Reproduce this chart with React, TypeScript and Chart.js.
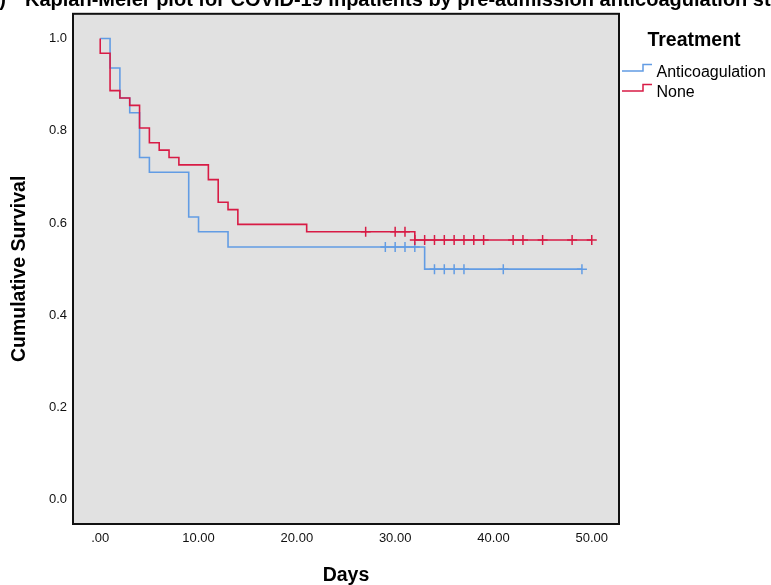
import React, { useEffect, useRef } from 'react';
import { Chart, registerables } from 'chart.js';

Chart.register(...registerables);

const FONT = '"Liberation Sans", Arial, Helvetica, sans-serif';

const TITLE_PREFIX = '(a)';
const TITLE_TEXT = 'Kaplan-Meier plot for COVID-19 inpatients by pre-admission anticoagulation status';
const X_TITLE = 'Days';
const Y_TITLE = 'Cumulative Survival';
const LEGEND_TITLE = 'Treatment';
const SERIES_NAMES = ['Anticoagulation', 'None'];

const X_TICKS = [0, 10, 20, 30, 40, 50];
const Y_TICKS = [0, 0.2, 0.4, 0.6, 0.8, 1.0];

const ANTI_DAYS = [0, 1, 2, 3, 4, 5, 9, 10, 13, 33, 49];
const ANTI_SURV = [1.0, 0.936, 0.871, 0.839, 0.742, 0.71, 0.613, 0.581, 0.548, 0.5, 0.5];
const ANTI_CENSOR_DAYS = [29, 30, 31, 32, 34, 35, 36, 37, 41, 49];
const ANTI_CENSOR_SURV = [0.548, 0.548, 0.548, 0.548, 0.5, 0.5, 0.5, 0.5, 0.5, 0.5];

const NONE_DAYS = [0, 0, 1, 2, 3, 4, 5, 6, 7, 8, 11, 12, 13, 14, 21, 32, 50];
const NONE_SURV = [1.0, 0.968, 0.887, 0.871, 0.855, 0.806, 0.774, 0.758, 0.742, 0.726, 0.694, 0.645, 0.629, 0.597, 0.581, 0.563, 0.563];
const NONE_CENSOR_DAYS = [27, 30, 31, 32, 33, 34, 35, 36, 37, 38, 39, 42, 43, 45, 48, 50];
const NONE_CENSOR_SURV = [0.581, 0.581, 0.581, 0.563, 0.563, 0.563, 0.563, 0.563, 0.563, 0.563, 0.563, 0.563, 0.563, 0.563, 0.563, 0.563];

const BLUE = '#629ce4';
const RED = '#d81b45';
const COLORS = [BLUE, RED];

const pts = (xs: number[], ys: number[]) => xs.map((x, i) => ({ x, y: ys[i] }));

const framePlugin = {
  id: 'frame',
  beforeDatasetsDraw(chart: any) {
    const { ctx, chartArea: a } = chart;
    ctx.save();
    ctx.fillStyle = '#e1e1e1';
    ctx.fillRect(a.left, a.top, a.right - a.left, a.bottom - a.top);
    ctx.restore();
  },
  afterDatasetsDraw(chart: any) {
    const { ctx, chartArea: a } = chart;
    ctx.save();
    ctx.strokeStyle = '#111';
    ctx.lineWidth = 2;
    ctx.strokeRect(a.left, a.top, a.right - a.left, a.bottom - a.top);
    ctx.restore();
  },
  afterDraw(chart: any) {
    const { ctx, chartArea: a } = chart;
    ctx.save();
    // title (clipped at top)
    ctx.fillStyle = '#000';
    ctx.font = `bold 20px ${FONT}`;
    ctx.textBaseline = 'alphabetic';
    ctx.textAlign = 'right';
    ctx.fillText(TITLE_PREFIX, 6, 6);
    ctx.textAlign = 'left';
    ctx.fillText(TITLE_TEXT, 25, 6);

    // legend
    const lx = a.right;
    ctx.font = `bold 19.5px ${FONT}`;
    ctx.textAlign = 'center';
    ctx.fillText(LEGEND_TITLE, 694, 46);
    ctx.font = `16px ${FONT}`;
    ctx.textAlign = 'left';
    const lows = [71, 91];
    const bases = [76.5, 96.5];
    SERIES_NAMES.forEach((name, i) => {
      const y0 = lows[i];
      ctx.strokeStyle = COLORS[i];
      ctx.lineWidth = 1.5;
      ctx.beginPath();
      ctx.moveTo(lx + 3, y0);
      ctx.lineTo(643, y0);
      ctx.lineTo(643, y0 - 6.5);
      ctx.lineTo(652, y0 - 6.5);
      ctx.stroke();
      ctx.fillStyle = '#000';
      ctx.fillText(name, 656.5, bases[i]);
    });
    ctx.restore();
  },
};

export default function App() {
  const ref = useRef<HTMLCanvasElement | null>(null);

  useEffect(() => {
    if (!ref.current) return;
    const chart = new Chart(ref.current, {
      type: 'line',
      data: {
        datasets: [
          {
            label: SERIES_NAMES[1],
            data: pts(NONE_DAYS, NONE_SURV),
            borderColor: RED,
            borderWidth: 1.6,
            stepped: 'before',
            pointRadius: 0,
            fill: false,
          },
          {
            label: SERIES_NAMES[1] + ' censored',
            data: pts(NONE_CENSOR_DAYS, NONE_CENSOR_SURV),
            borderColor: RED,
            backgroundColor: RED,
            showLine: false,
            pointStyle: 'cross',
            pointRadius: 5,
            pointBorderWidth: 1.5,
          },
          {
            label: SERIES_NAMES[0],
            data: pts(ANTI_DAYS, ANTI_SURV),
            borderColor: BLUE,
            borderWidth: 1.6,
            stepped: 'before',
            pointRadius: 0,
            fill: false,
          },
          {
            label: SERIES_NAMES[0] + ' censored',
            data: pts(ANTI_CENSOR_DAYS, ANTI_CENSOR_SURV),
            borderColor: BLUE,
            backgroundColor: BLUE,
            showLine: false,
            pointStyle: 'cross',
            pointRadius: 5,
            pointBorderWidth: 1.5,
          },
        ],
      },
      options: {
        animation: false,
        responsive: false,
        events: [],
        layout: { padding: { left: 0, top: 11, right: 152, bottom: 0 } },
        plugins: {
          legend: { display: false },
          tooltip: { enabled: false },
          title: { display: false },
        },
        scales: {
          x: {
            type: 'linear',
            min: -2.77,
            max: 52.77,
            grid: { display: false, drawTicks: false },
            border: { display: false },
            afterFit: (s: any) => {
              s.height = 61;
            },
            afterBuildTicks: (s: any) => {
              s.ticks = X_TICKS.map((v) => ({ value: v }));
            },
            ticks: {
              padding: 7,
              color: '#111',
              font: { family: FONT, size: 13 },
              maxRotation: 0,
              autoSkip: false,
              callback: (v: any) => (Number(v) === 0 ? '.00' : Number(v).toFixed(2)),
            },
            title: {
              display: true,
              text: X_TITLE,
              color: '#000',
              font: { family: FONT, size: 19.5, weight: 'bold', lineHeight: 1 },
              padding: { top: 0, bottom: 0 },
            },
          },
          y: {
            type: 'linear',
            min: -0.0525,
            max: 1.0535,
            grid: { display: false, drawTicks: false },
            border: { display: false },
            afterFit: (s: any) => {
              s.width = 73;
            },
            afterBuildTicks: (s: any) => {
              s.ticks = Y_TICKS.map((v) => ({ value: v }));
            },
            ticks: {
              padding: 6,
              color: '#111',
              font: { family: FONT, size: 13 },
              autoSkip: false,
              callback: (v: any) => Number(v).toFixed(1),
            },
            title: {
              display: true,
              text: Y_TITLE,
              color: '#000',
              font: { family: FONT, size: 19.5, weight: 'bold', lineHeight: 1.2 },
              padding: { top: 8, bottom: 0 },
            },
          },
        },
      } as any,
      plugins: [framePlugin],
    });
    return () => chart.destroy();
  }, []);

  return (
    <div style={{ position: 'fixed', left: 0, top: 0, width: 771, height: 585, background: '#fff' }}>
      <canvas ref={ref} width={771} height={585} style={{ display: 'block' }} />
    </div>
  );
}
